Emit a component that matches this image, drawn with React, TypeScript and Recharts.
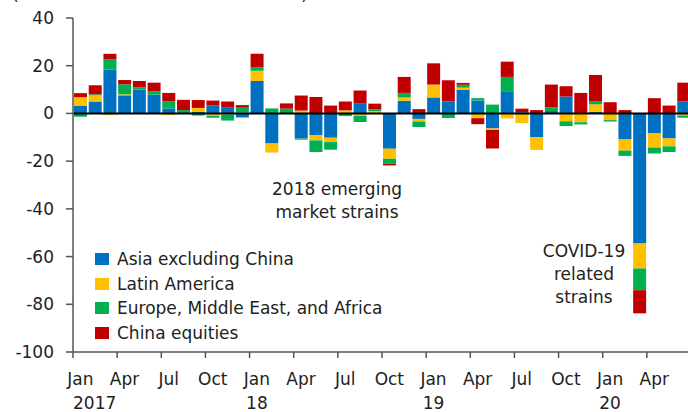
import React from "react";
import {
  BarChart,
  Bar,
  XAxis,
  YAxis,
  Legend,
  ReferenceLine,
} from "recharts";

const FONT = "'DejaVu Sans', 'Liberation Sans', Arial, sans-serif";

// Monthly categories, Jan 2017 to Jun 2020
const monthNames = ["Jan", "Feb", "Mar", "Apr", "May", "Jun", "Jul", "Aug", "Sep", "Oct", "Nov", "Dec"];
const yearLabels = ["2017", "18", "19", "20"];
const monthCount = 42;

// Flows by region (billions of US dollars)
const asia = [
  3.3, 5.0, 18.3, 7.6, 10.0, 7.9, 2.1, 0, 0.6, 3.3, 2.4, -1.7,
  13.6, -12.6, 0, -10.5, -9.2, -10.2, 0, 4.3, 0, -14.8, 5.3, -2.3,
  6.7, 5.0, 10.0, 5.4, -6.3, 9.3, 0.5, -10.0, 1.0, 7.1, 0, 0.7,
  0, -10.9, -54.5, -8.4, -10.5, 5.0,
];
const latam = [
  3.5, 2.6, -0.7, 0.4, -0.3, 0, -0.6, 0, 1.7, -1.0, -0.5, 0.3,
  4.3, -3.8, 0, 1.2, -2.1, -1.8, 1.3, -1.0, 1.0, -4.2, 1.4, -1.1,
  5.4, 0, 0.8, -2.0, -0.6, -2.1, -4.0, -5.3, 0, -3.3, -3.7, 3.1,
  -2.8, -4.7, -10.5, -5.9, -3.3, -0.9,
];
const emea = [
  -1.4, 0.4, 4.3, 4.2, 1.0, 1.4, 2.9, 1.4, -0.9, -0.8, -2.5, 2.1,
  1.4, 2.1, 2.0, -0.5, -4.9, -3.2, -1.1, -2.6, 0.7, -2.1, 1.9, -2.3,
  0, -1.9, 1.2, 1.0, 3.7, 6.0, 0, 0, 1.6, -2.0, -0.9, 1.4,
  -0.6, -2.2, -9.1, -2.5, -2.4, -0.9,
];
const china = [
  1.7, 3.8, 2.4, 1.8, 2.6, 3.6, 3.6, 4.3, 3.3, 2.1, 2.6, 1.1,
  5.7, 0, 2.2, 6.3, 6.9, 3.3, 3.7, 5.3, 2.4, -0.7, 6.7, 1.8,
  8.9, 8.9, 0.8, -2.5, -7.8, 6.4, 1.5, 1.4, 9.5, 4.3, 8.6, 10.9,
  4.7, 1.4, -9.7, 6.4, 3.3, 7.9,
];

const yTicks = [-100, -80, -60, -40, -20, 0, 20, 40];

const series = [
  { key: "asia", name: "Asia excluding China", color: "#0070C0" },
  { key: "latam", name: "Latin America", color: "#FFC000" },
  { key: "emea", name: "Europe, Middle East, and Africa", color: "#00B050" },
  { key: "china", name: "China equities", color: "#C00000" },
];

const chartData = Array.from({ length: monthCount }, (_, i) => ({
  month: `${monthNames[i % 12]} ${yearLabels[Math.floor(i / 12)]}`,
  asia: asia[i],
  latam: latam[i],
  emea: emea[i],
  china: china[i],
}));

// Quarter labels under the axis, tick marks on quarter boundaries
const QuarterTick = (props: any) => {
  const { x, y, payload, index } = props;
  if (index % 3 !== 0) return null;
  const half = payload && payload.offset ? payload.offset : 7.35;
  const year = index % 12 === 0 ? yearLabels[index / 12] : null;
  return (
    <g>
      <line x1={x - half} x2={x - half} y1={y} y2={y + 6} stroke="#555" strokeWidth={1.5} />
      <text x={x} y={y + 33} textAnchor="middle" fill="#222" fontSize={17} fontFamily={FONT}>
        {monthNames[index % 12]}
      </text>
      {year && (
        <text
          x={index === 0 ? x - half : x}
          y={y + 57}
          textAnchor={index === 0 ? "start" : "middle"}
          fill="#222"
          fontSize={17}
          fontFamily={FONT}
        >
          {year}
        </text>
      )}
    </g>
  );
};

const renderLegend = () => (
  <div style={{ fontFamily: FONT, fontSize: 17, color: "#222" }}>
    {series.map((s) => (
      <div key={s.key} style={{ display: "flex", alignItems: "center", height: 24.6, whiteSpace: "nowrap" }}>
        <span
          style={{ display: "inline-block", flexShrink: 0, width: 14, height: 12, background: s.color, marginRight: 8 }}
        />
        {s.name}
      </div>
    ))}
  </div>
);

const noteStyle: React.CSSProperties = {
  position: "absolute",
  fontFamily: FONT,
  fontSize: 17,
  color: "#222",
  textAlign: "center",
  lineHeight: "23px",
  whiteSpace: "nowrap",
};

export default function App() {
  return (
    <div style={{ position: "absolute", left: 0, top: 0, width: 688, height: 412, overflow: "hidden", background: "#fff" }}>
      <svg width={688} height={10} style={{ position: "absolute", left: 0, top: 0 }}>
        <text x={12} y={-0.5} fontSize={17} fontFamily={FONT} fill="#222" textLength={296} lengthAdjust="spacing">
          (Billions of U.S. dollars)
        </text>
      </svg>
      <BarChart
        width={691}
        height={412}
        data={chartData}
        stackOffset="sign"
        barSize={13}
        margin={{ top: 18, right: 0, bottom: 0, left: 0 }}
      >
        <XAxis
          dataKey="month"
          interval={0}
          height={60}
          tickSize={0}
          tickMargin={0}
          tickLine={false}
          axisLine={{ stroke: "#555", strokeWidth: 1.5 }}
          tick={<QuarterTick />}
        />
        <YAxis
          width={73}
          domain={[-100, 40]}
          ticks={yTicks}
          interval={0}
          tickSize={7}
          tickMargin={12}
          axisLine={{ stroke: "#555", strokeWidth: 1.5 }}
          tickLine={{ stroke: "#555", strokeWidth: 1.5 }}
          tick={{ fill: "#222", fontSize: 17, fontFamily: FONT }}
        />
        <Legend
          layout="vertical"
          align="center"
          verticalAlign="middle"
          content={renderLegend}
          wrapperStyle={{ left: 95, top: 247, width: 320 }}
        />
        {series.map((s) => (
          <Bar key={s.key} dataKey={s.key} name={s.name} stackId="a" fill={s.color} isAnimationActive={false} />
        ))}
        <ReferenceLine y={0} stroke="#000" strokeWidth={2} />
      </BarChart>
      <div style={{ ...noteStyle, left: 237, top: 178, width: 200 }}>
        2018 emerging
        <br />
        market strains
      </div>
      <div style={{ ...noteStyle, left: 524, top: 240, width: 120 }}>
        COVID-19
        <br />
        related
        <br />
        strains
      </div>
    </div>
  );
}
